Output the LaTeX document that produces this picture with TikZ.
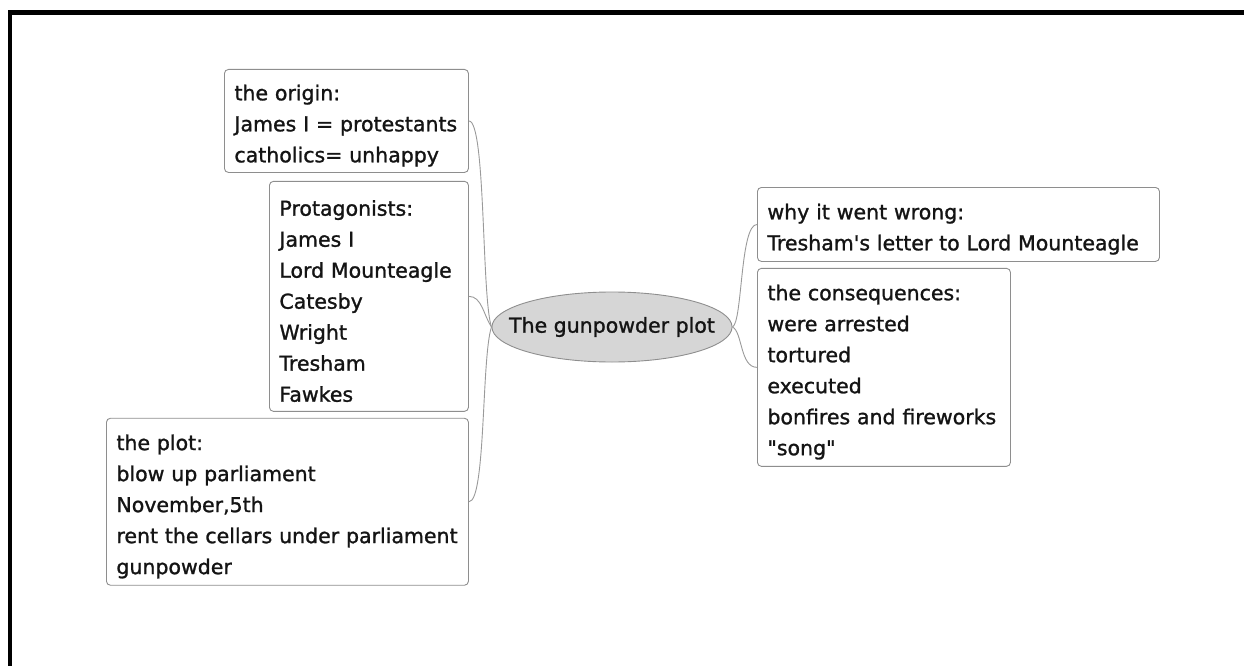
\documentclass[tikz,border=0pt]{standalone}
\usepackage{fontspec}
\setmainfont{DejaVu Sans}[Ligatures=TeXOff, UprightFeatures={FakeBold=1.2}]
\usepackage{tikz}
\usetikzlibrary{positioning, shapes.geometric}

\definecolor{boxline}{HTML}{8E8E8E}
\definecolor{linkline}{HTML}{9A9A9A}
\definecolor{topicfill}{HTML}{D6D6D6}
\definecolor{inktext}{HTML}{141414}

\begin{document}
\begin{tikzpicture}[x=1pt, y=-1pt]
    % Define styles
    \tikzstyle{mmbox} = [rectangle, rounded corners=4pt, draw=boxline, line width=0.9pt, fill=white, align=left, inner xsep=10pt, inner ysep=0pt, text height=25pt, text=inktext, font=\fontsize{20.5}{31}\selectfont]
    \tikzstyle{topic} = [ellipse, draw=boxline, line width=0.9pt, fill=topicfill, minimum width=240pt, minimum height=70pt, inner xsep=-18pt, inner ysep=0pt, text=inktext, font=\fontsize{20.5}{24}\selectfont]
    \tikzstyle{link} = [draw=linkline, line width=0.9pt]

    \useasboundingbox (0,0) rectangle (1244,666);
    \draw [line width=4.5pt] (1244,12.5) -- (10,12.5) -- (10,670);

    % Nodes
    \node (center) [topic] at (612,327) {The gunpowder plot};
    \node (origin) [mmbox, anchor=north west, text width=224pt, minimum height=103pt] at (224,69) {the origin:\\James I = protestants\\catholics= unhappy};
    \node (actors) [mmbox, below=8pt of origin.south east, anchor=north east, text width=179pt, minimum height=230pt] {Protagonists:\\James I\\Lord Mounteagle\\Catesby\\Wright\\Tresham\\Fawkes};
    \node (plot) [mmbox, below=6pt of actors.south east, anchor=north east, text width=342pt, minimum height=167pt] {the plot:\\blow up parliament\\November,5th\\rent the cellars under parliament\\gunpowder};
    \node (wrong) [mmbox, anchor=north west, text width=382pt, minimum height=74pt] at (757,187) {why it went wrong:\\Tresham's letter to Lord Mounteagle};
    \node (result) [mmbox, below=6pt of wrong.south west, anchor=north west, text width=233pt, minimum height=198pt] {the consequences:\\were arrested\\tortured\\executed\\bonfires and fireworks\\"song"};

    % Connectors
    \draw [link] (origin.east) .. controls +(17,0) and +(-10,-30) .. (center.west);
    \draw [link] (actors.east) .. controls +(13,0) and +(-8,-12) .. (center.west);
    \draw [link] (plot.east) .. controls +(17,0) and +(-10,30) .. (center.west);
    \draw [link] (center.east) .. controls +(10,-5) and +(-17,0) .. (wrong.west);
    \draw [link] (center.east) .. controls +(10,5) and +(-17,0) .. (result.west);
\end{tikzpicture}
\end{document}
